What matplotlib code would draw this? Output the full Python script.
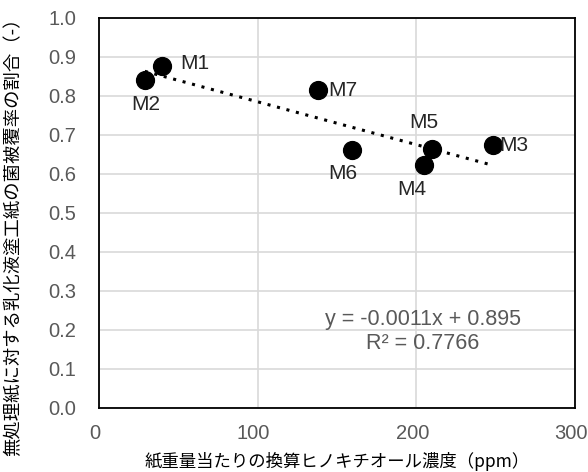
import matplotlib
matplotlib.use('Agg')
import matplotlib.pyplot as plt
import matplotlib.transforms as mtransforms
import numpy as np

plt.rcParams['font.family'] = ['Liberation Sans', 'Noto Sans CJK JP', 'DejaVu Sans']

# hinokitiol concentration per paper weight (ppm) vs. coverage ratio
names = ['M1', 'M2', 'M3', 'M4', 'M5', 'M6', 'M7']
conc = [39.7, 29.0, 248.0, 204.8, 210.2, 159.2, 137.8]
ratio = [0.877, 0.841, 0.674, 0.624, 0.664, 0.662, 0.815]

slope = -0.0011
intercept = 0.895
r2 = 0.7766

# label offsets in points (dx, dy, ha)
label_pos = {
    'M1': (13, 2, 'left'),
    'M2': (1, -18, 'center'),
    'M3': (5, 0, 'left'),
    'M4': (-9, -18, 'center'),
    'M5': (-6, 19, 'center'),
    'M6': (-6, -17, 'center'),
    'M7': (8, 0, 'left'),
}

fig = plt.figure(figsize=(5.88, 4.72), dpi=100)
ax = fig.add_axes([0.168, 0.136, 0.810, 0.826])

gray = '#595959'
ax.set_xlim(0, 300)
ax.set_ylim(0, 1.0)
ax.set_xticks([0, 100, 200, 300])
ax.set_yticks(np.arange(0, 1.01, 0.1))
ax.set_yticklabels(['%.1f' % v for v in np.arange(0, 1.01, 0.1)])
ax.grid(True, color='#d9d9d9', linewidth=1.2)
ax.set_axisbelow(True)
ax.tick_params(length=0, labelsize=14.5, labelcolor=gray)
ax.tick_params(axis='y', pad=16)
ax.tick_params(axis='x', pad=12)
for s in ax.spines.values():
    s.set_linewidth(1.3)
    s.set_color('black')

# nudge x tick labels a little to the left so "300" stays inside
shift = mtransforms.ScaledTranslation(-4 / 100, 0, fig.dpi_scale_trans)
for lbl in ax.get_xticklabels():
    lbl.set_transform(lbl.get_transform() + shift)

# trendline over the data range
xt = np.array([min(conc), max(conc)])
ax.plot(xt, slope * xt + intercept, color='black', linestyle=(0, (1, 2.2)),
        linewidth=2.2, zorder=2)

ax.scatter(conc, ratio, s=165, color='black', zorder=3)

for n, x, y in zip(names, conc, ratio):
    dx, dy, ha = label_pos[n]
    ax.annotate(n, (x, y), xytext=(dx, dy), textcoords='offset points',
                fontsize=15, ha=ha, va='center', color='#262626')

ax.text(204, 0.196, 'y = -0.0011x + 0.895\nR² = 0.7766', fontsize=15.5,
        color=gray, ha='center', va='center', linespacing=1.2)

jp = ['Noto Sans CJK JP', 'DejaVu Sans']
ax.set_xlabel('紙重量当たりの換算ヒノキチオール濃度（ppm）', fontsize=12.5,
              family=jp, labelpad=6)
fig.text(13 / 588, 1 - 232 / 472, '無処理紙に対する乳化液塗工紙の菌被覆率の割合（-）',
         fontsize=13.2, family=jp, rotation=90, ha='center', va='center')

fig.savefig('out.png', dpi=100)
